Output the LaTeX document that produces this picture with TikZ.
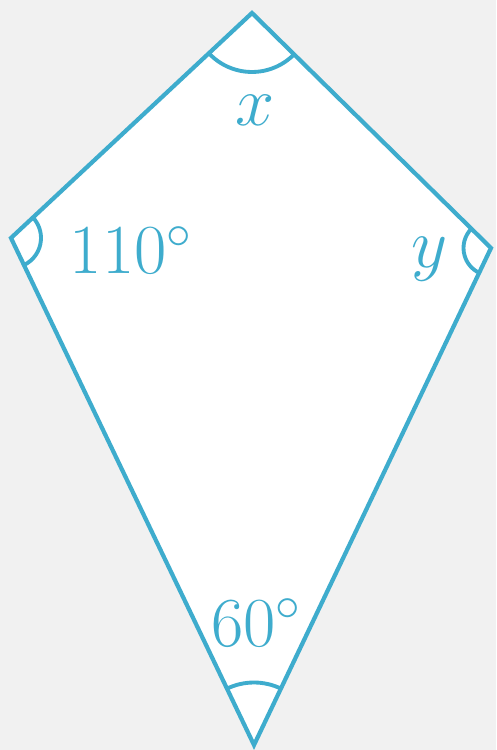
\RequirePackage{fix-cm}
\documentclass[tikz,border=0pt]{standalone}
\usepackage{xcolor}
\usepackage{tikz}
\usetikzlibrary{angles,calc}
\definecolor{kiteBlue}{RGB}{62,172,205}
\definecolor{paperGray}{RGB}{241,241,241}

\begin{document}
\begin{tikzpicture}[
  edge/.style={draw=kiteBlue, line width=2.4pt, line join=miter},
  anglearc/.style={draw=kiteBlue, line width=2.2pt},
  lbl/.style={text=kiteBlue, font=\fontsize{40}{48}\selectfont, inner sep=0pt}
]

% Background
\fill[paperGray] (0,0) rectangle (9.92,15);
\useasboundingbox (0,0) rectangle (9.92,15);

% Vertices
\coordinate (T) at (5.04,14.74);
\coordinate (L) at (0.22,10.24);
\coordinate (R) at (9.82,10.04);
\coordinate (B) at (5.08,0.1);

% Kite
\fill[white] (T) -- (R) -- (B) -- (L) -- cycle;
\draw[edge] (T) -- (R) -- (B) -- (L) -- cycle;

% Angle marks
\pic[anglearc, angle radius=1.18cm] {angle = L--T--R};
\pic[anglearc, angle radius=0.6cm] {angle = B--L--T};
\pic[anglearc, angle radius=0.55cm] {angle = T--R--B};
\pic[anglearc, angle radius=1.25cm] {angle = R--B--L};

% Labels
\node[lbl] (x) at (5.1,12.8) {$x$};
\node[lbl] (a) at (2.62,10.0) {$110^\circ$};
\node[lbl] (y) at (8.6,9.82) {$y$};
\node[lbl] (b) at (5.12,2.55) {$60^\circ$};

\end{tikzpicture}
\end{document}
